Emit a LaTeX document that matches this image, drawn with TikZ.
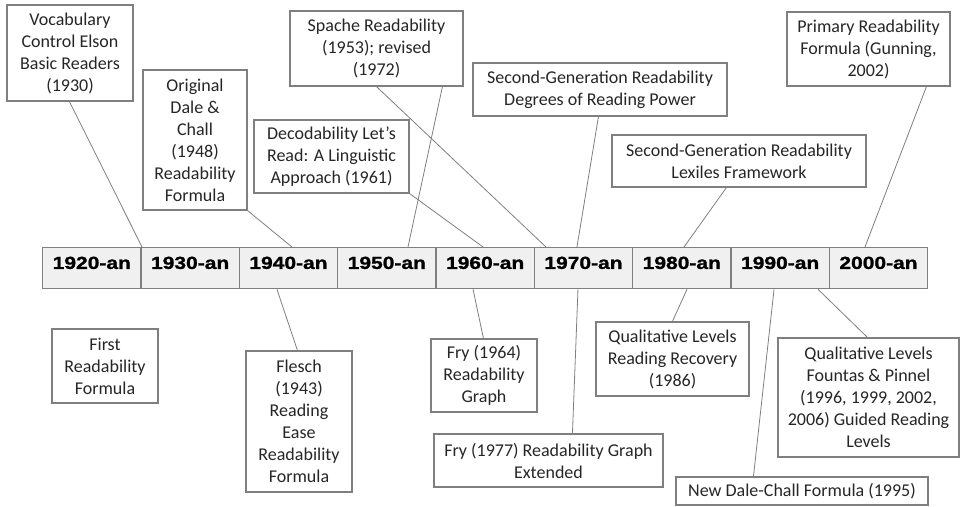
\documentclass[tikz,border=0pt]{standalone}
\usepackage{fontspec}
\setmainfont{Carlito}
\newfontfamily\decfont{Liberation Sans}[FakeStretch=1.2, FakeBold=1.2]
\definecolor{linegray}{HTML}{7F7F7F}
\definecolor{cellfill}{HTML}{F0F0F0}
\definecolor{txt}{HTML}{262626}
\tikzset{
  evbox/.style={draw=linegray, line width=1.1pt, inner sep=0pt, align=center,
    text=txt, font=\fontsize{18}{22}\selectfont, fill=white},
  cell/.style={draw=linegray, line width=1.3pt, fill=cellfill, inner sep=0pt,
    minimum width=98.33pt, minimum height=41pt, anchor=north west,
    text height=12.5pt, text depth=11pt,
    font=\decfont\bfseries\fontsize{17.5}{20}\selectfont},
  conn/.style={draw=linegray, line width=0.8pt}
}
\newcommand{\evb}[6]{% name, x1,y1,x2,y2, text
  \node[evbox, minimum width=#4pt-#2pt, minimum height=#5pt-#3pt]
    (#1) at ({(#2+#4)/2},{(#3+#5)/2}) {#6};}
\begin{document}
\begin{tikzpicture}[x=1pt,y=-1pt]
\useasboundingbox (0,0) rectangle (960,506);
% timeline cells
\foreach \d [count=\i from 0] in {1920,1930,1940,1950,1960,1970,1980,1990,2000}{
  \node[cell] (c\d) at ({42+\i*98.333},247) {\d-an};
}
% event boxes
\evb{A}{7}{5}{133}{101}{Vocabulary\\Control Elson\\Basic Readers\\(1930)}
\evb{B}{143}{70}{247}{210}{Original\\Dale \&\\Chall\\(1948)\\Readability\\Formula}
\evb{C}{290}{11}{463}{86}{Spache Readability\\(1953); revised\\(1972)}
\evb{D}{254}{120}{409}{193}{Decodability Let’s\\Read: A Linguistic\\Approach (1961)}
\evb{E}{473}{63}{727}{116}{Second-Generation Readability\\Degrees of Reading Power}
\evb{F}{787}{12}{950}{86}{Primary Readability\\Formula (Gunning,\\2002)}
\evb{G}{612}{135}{866}{187}{Second-Generation Readability\\Lexiles Framework}
\evb{H}{52}{329}{158}{403}{First\\Readability\\Formula}
\evb{I}{246}{351}{352}{492}{Flesch\\(1943)\\Reading\\Ease\\Readability\\Formula}
\evb{J}{431}{339}{537}{412}{Fry (1964)\\Readability\\Graph}
\evb{K}{434}{434}{663}{487}{Fry (1977) Readability Graph\\Extended}
\evb{L}{596}{322}{749}{396}{Qualitative Levels\\Reading Recovery\\(1986)}
\evb{M}{778}{338}{959}{457}{Qualitative Levels\\Fountas \& Pinnel\\(1996, 1999, 2002,\\2006) Guided Reading\\Levels}
\evb{N}{676}{477}{928}{505}{New Dale-Chall Formula (1995)}
% connectors above
\draw[conn] ([xshift=63pt]A.south west) -- ([xshift=1.7pt]c1930.north west);
\draw[conn] (B.south east) -- ([xshift=53.3pt]c1940.north west);
\draw[conn] ([xshift=153pt]C.south west) -- ([xshift=71pt]c1950.north west);
\draw[conn] ([xshift=87pt]C.south west) -- ([xshift=12.3pt]c1970.north west);
\draw[conn] (D.south east) -- ([xshift=47.7pt]c1960.north west);
\draw[conn] ([xshift=126pt]E.south west) -- ([xshift=43.3pt]c1970.north west);
\draw[conn] ([xshift=140pt]F.south west) -- ([xshift=36.3pt]c2000.north west);
\draw[conn] ([xshift=115pt]G.south west) -- ([xshift=52pt]c1980.north west);
% connectors below
\draw[conn] ([xshift=38.3pt]c1940.south west) -- ([xshift=52pt]I.north west);
\draw[conn] ([xshift=37.7pt]c1960.south west) -- ([xshift=53pt]J.north west);
\draw[conn] ([xshift=44.3pt]c1970.south west) -- ([xshift=139pt]K.north west);
\draw[conn] ([xshift=55pt]c1980.south west) -- ([xshift=77pt]L.north west);
\draw[conn] ([xshift=87.7pt]c1990.south west) -- ([xshift=90pt]M.north west);
\draw[conn] ([xshift=43.7pt]c1990.south west) -- ([xshift=78pt]N.north west);
\end{tikzpicture}
\end{document}
